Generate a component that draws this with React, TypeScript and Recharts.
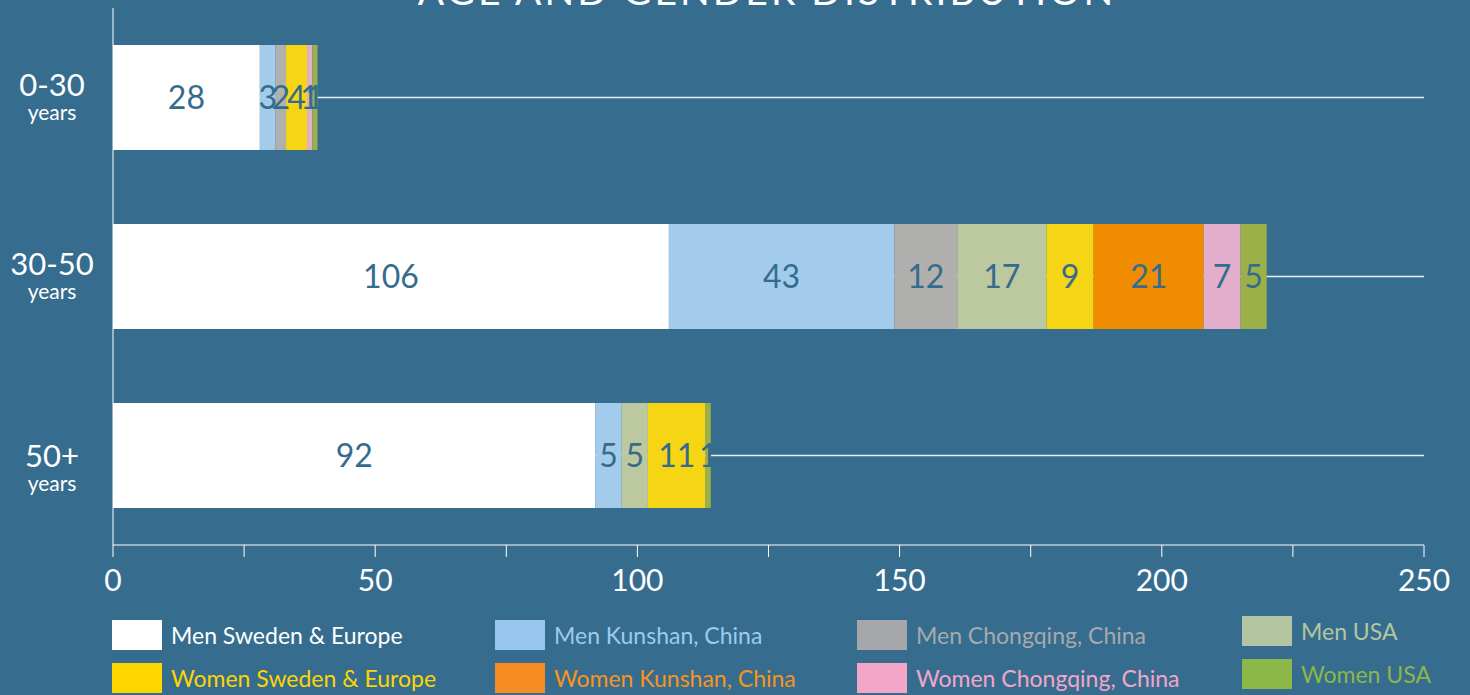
import React from 'react';
import { BarChart, Bar, XAxis, YAxis, CartesianGrid, LabelList } from 'recharts';

const ageGroups = ['0-30', '30-50', '50+'];

const menSweden = [28, 106, 92];
const menKunshan = [3, 43, 5];
const menChongqing = [2, 12, 0];
const menUSA = [0, 17, 5];
const womenSweden = [4, 9, 11];
const womenKunshan = [0, 21, 0];
const womenChongqing = [1, 7, 0];
const womenUSA = [1, 5, 1];

const xTicks = [0, 25, 50, 75, 100, 125, 150, 175, 200, 225, 250];

const BG = '#366d8f';
const LABEL = '#356c8d';
const FONT = '"Gill Sans", Lato, "Open Sans", sans-serif';

const series = [
  { key: 'menSweden', name: 'Men Sweden & Europe', values: menSweden, fill: '#ffffff', legend: '#ffffff', text: '#ffffff' },
  { key: 'menKunshan', name: 'Men Kunshan, China', values: menKunshan, fill: '#a3cbec', legend: '#97c7ee', text: '#9ccbed' },
  { key: 'menChongqing', name: 'Men Chongqing, China', values: menChongqing, fill: '#b0b0ae', legend: '#a6a7aa', text: '#a7a9ac' },
  { key: 'menUSA', name: 'Men USA', values: menUSA, fill: '#bcc8a0', legend: '#b2c5a0', text: '#b3c69e' },
  { key: 'womenSweden', name: 'Women Sweden & Europe', values: womenSweden, fill: '#f6d614', legend: '#ffd500', text: '#ffd400' },
  { key: 'womenKunshan', name: 'Women Kunshan, China', values: womenKunshan, fill: '#f08c00', legend: '#f78d22', text: '#f7941d' },
  { key: 'womenChongqing', name: 'Women Chongqing, China', values: womenChongqing, fill: '#e2aecb', legend: '#f4a6c9', text: '#f4a5c8' },
  { key: 'womenUSA', name: 'Women USA', values: womenUSA, fill: '#9cb04a', legend: '#8cb84a', text: '#8db64a' },
];

const data = ageGroups.map((age, i) => {
  const row: any = { age };
  series.forEach((s) => (row[s.key] = s.values[i]));
  return row;
});

// legend grid: men on the first row, women on the second
const legendCols = [112, 495, 857, 1242];
const legendRows = [[620, 663], [620, 663], [620, 663], [616, 659]];

// the age labels in the original sit a bit unevenly
const ageLabelShift = [-2, -2, 11];

const AgeTick = ({ y, payload, index }: any) => {
  const dy = ageLabelShift[index] ?? 0;
  return (
    <g>
      <text x={52} y={y + dy} textAnchor="middle" fill="#fff" fontSize={31} fontFamily={FONT}>
        {payload.value}
      </text>
      <text x={52} y={y + dy + 24} textAnchor="middle" fill="#fff" fontSize={21} fontFamily={FONT}>
        years
      </text>
    </g>
  );
};

const ValueTick = ({ x, y, payload }: any) =>
  payload.value % 50 === 0 ? (
    <text x={x} y={y + 32} textAnchor="middle" fill="#fff" fontSize={30} fontFamily={FONT}>
      {payload.value}
    </text>
  ) : null;

// one grid line through the middle of each age band, none at the edges
const gridRows = ({ offset }: any) =>
  ageGroups.map((_, i) => offset.top + ((i + 0.5) * offset.height) / ageGroups.length);

export default function App() {
  return (
    <div style={{ position: 'fixed', left: 0, top: 0, width: 1470, height: 695, background: BG, overflow: 'hidden', fontFamily: FONT }}>
      <div
        style={{
          position: 'absolute',
          left: 0,
          width: 1470,
          top: -30,
          textAlign: 'center',
          color: '#fff',
          fontSize: 39,
          letterSpacing: 3,
          lineHeight: '40px',
          paddingLeft: 32,
        }}
      >
        AGE AND GENDER DISTRIBUTION
      </div>
      <BarChart
        width={1470}
        height={695}
        data={data}
        layout="vertical"
        margin={{ top: 8, right: 46, bottom: 0, left: 0 }}
        barSize={105}
      >
        <CartesianGrid horizontal vertical={false} stroke="#e6eef3" strokeWidth={1.5} horizontalCoordinatesGenerator={gridRows} />
        <XAxis
          type="number"
          domain={[0, 250]}
          ticks={xTicks}
          interval={0}
          height={150}
          axisLine={{ stroke: '#fff', strokeWidth: 1 }}
          tickLine={{ stroke: '#fff', strokeWidth: 1 }}
          tickSize={12}
          tick={<ValueTick />}
        />
        <YAxis
          type="category"
          dataKey="age"
          width={113}
          axisLine={{ stroke: '#fff', strokeWidth: 1 }}
          tickLine={false}
          tick={<AgeTick />}
        />
        {series.map((s) => (
          <Bar key={s.key} dataKey={s.key} name={s.name} stackId="a" fill={s.fill} isAnimationActive={false}>
            <LabelList
              dataKey={s.key}
              position="center"
              fill={LABEL}
              fontSize={32}
              fontFamily={FONT}
              formatter={(v: any) => (v ? v : '')}
            />
          </Bar>
        ))}
      </BarChart>
      {series.map((s, i) => {
        const col = i % 4;
        const row = Math.floor(i / 4);
        const top = legendRows[col][row];
        return (
          <div
            key={s.key}
            style={{ position: 'absolute', left: legendCols[col], top, height: 30, display: 'flex', alignItems: 'center' }}
          >
            <div style={{ width: 50, height: 30, background: s.legend }} />
            <span style={{ marginLeft: 9, color: s.text, fontSize: 23, whiteSpace: 'nowrap' }}>{s.name}</span>
          </div>
        );
      })}
    </div>
  );
}
